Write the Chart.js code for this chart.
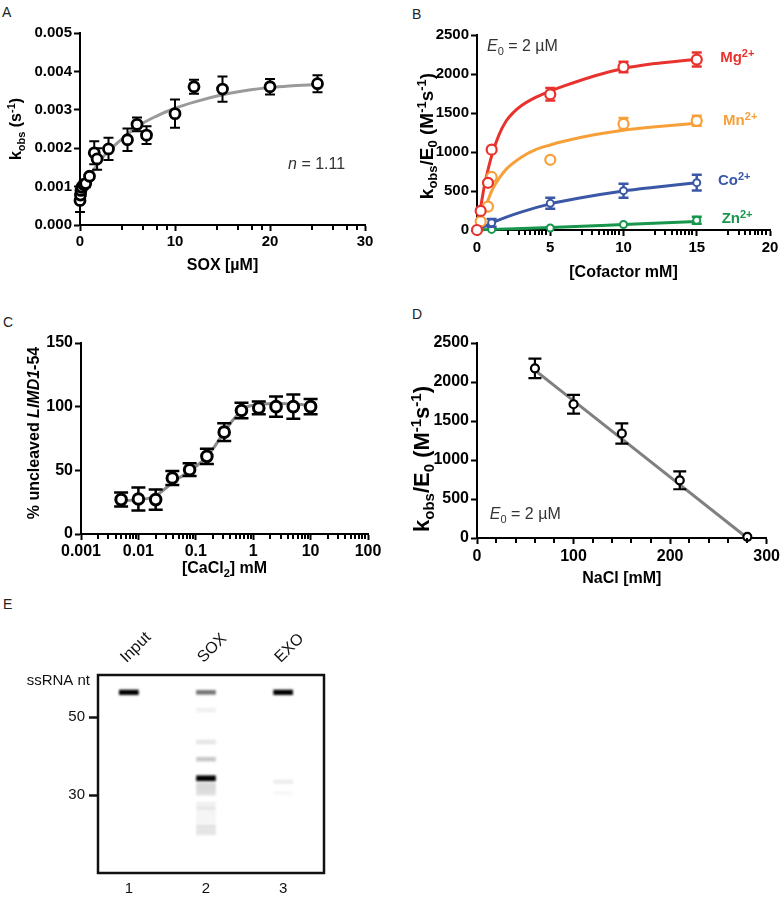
<!DOCTYPE html>
<html>
<head>
<meta charset="utf-8">
<script src="https://cdn.jsdelivr.net/npm/chart.js@4.4.0/dist/chart.umd.min.js"></script>
<style>
  body { margin: 0; background: #fff; width: 783px; height: 898px; position: relative; overflow: hidden; font-family: 'Liberation Sans', Arial, sans-serif; }
  canvas { position: absolute; }
  .lbl { position: absolute; font-size: 14px; line-height: 14px; color: #222; }
</style>
</head>
<body>
<div class="lbl" style="left:2px;top:5px">A</div>
<div class="lbl" style="left:412px;top:7px">B</div>
<div class="lbl" style="left:3px;top:315px">C</div>
<div class="lbl" style="left:412px;top:307px">D</div>
<div class="lbl" style="left:3px;top:597px">E</div>

<canvas id="cA" width="390" height="290" style="left:0px;top:0px"></canvas>
<canvas id="cB" width="393" height="290" style="left:390px;top:0px"></canvas>
<canvas id="cC" width="390" height="300" style="left:0px;top:300px"></canvas>
<canvas id="cD" width="393" height="300" style="left:390px;top:300px"></canvas>
<canvas id="cE" width="390" height="308" style="left:0px;top:590px"></canvas>

<script>
const FONT = "'Liberation Sans', Arial, Helvetica, sans-serif";

// A - kobs vs SOX
const soxConc = [0, 0.05, 0.1, 0.2, 0.4, 0.6, 1, 1.5, 1.8, 3, 5, 6, 7, 10, 12, 15, 20, 25];
const soxKobs = [0.00064, 0.00078, 0.0009, 0.00098, 0.00105, 0.00108, 0.00127, 0.00188, 0.00172, 0.00198, 0.00222, 0.00262, 0.00234, 0.0029, 0.0036, 0.00354, 0.0036, 0.00368];
const soxErr = [0.0003, 0.00015, 0.00012, 0.0001, 0.0001, 0.0001, 0.00005, 0.0003, 0.00028, 0.00029, 0.00029, 0.00018, 0.00023, 0.00037, 0.00018, 0.00033, 0.0002, 0.00022];
const soxFitX = [0, 1, 2, 3, 4, 5, 6, 8, 10, 12, 15, 18, 20, 22, 25];
const soxFitY = [0.00085, 0.00125, 0.00165, 0.00192, 0.00215, 0.00236, 0.00256, 0.00283, 0.00304, 0.0032, 0.00339, 0.00352, 0.00358, 0.00362, 0.00366];
const aXTicks = [0, 10, 20, 30];
const aYTicks = [0, 0.001, 0.002, 0.003, 0.004, 0.005];

// B - cofactors
const mgConc = [0, 0.25, 0.75, 1, 5, 10, 15];
const mgRate = [0, 245, 605, 1030, 1740, 2090, 2185];
const mgErr = [0, 0, 0, 0, 80, 68, 90];
const mgFitX = [0, 0.25, 0.5, 0.75, 1, 1.5, 2, 2.5, 3, 4, 5, 6, 8, 10, 12, 15];
const mgFitY = [0, 290, 560, 770, 950, 1220, 1400, 1510, 1590, 1700, 1780, 1850, 1975, 2070, 2130, 2190];
const mnConc = [0.25, 0.75, 1, 5, 10, 15];
const mnRate = [110, 300, 680, 900, 1360, 1400];
const mnErr = [0, 0, 0, 0, 75, 65];
const mnFitX = [0.25, 0.5, 0.75, 1, 1.5, 2, 3, 4, 5, 6, 8, 10, 12, 15];
const mnFitY = [120, 250, 380, 500, 660, 780, 930, 1030, 1090, 1140, 1220, 1280, 1320, 1370];
const coConc = [0, 1, 5, 10, 15];
const coRate = [0, 92, 342, 504, 607];
const coErr = [0, 50, 70, 90, 100];
const coFitX = [0, 0.5, 1, 2, 3, 5, 7, 10, 12, 15];
const coFitY = [0, 45, 90, 165, 230, 335, 410, 500, 545, 605];
const znConc = [0, 1, 5, 10, 15];
const znRate = [0, 8, 25, 70, 125];
const znErr = [0, 0, 0, 0, 45];
const znFitX = [0, 1, 5, 10, 15];
const znFitY = [0, 8, 32, 70, 110];
const bXTicks = [0, 5, 10, 15, 20];
const bYTicks = [0, 500, 1000, 1500, 2000, 2500];

// C - CaCl2
const caclConc = [0.005, 0.01, 0.02, 0.039, 0.078, 0.156, 0.3125, 0.625, 1.25, 2.5, 5, 10];
const uncleaved = [27, 27.5, 27, 44, 50.5, 61, 80, 97, 99, 100, 100, 100];
const uncleavedErr = [5.5, 9, 8, 5.5, 5, 6, 7, 6, 5, 8, 9.5, 6];
const caclFitX = [0.005, 0.01, 0.015, 0.02, 0.03, 0.04, 0.06, 0.08, 0.1, 0.15, 0.2, 0.3, 0.4, 0.6, 0.8, 1, 1.5, 2, 3, 5, 10];
const caclFitY = [26, 27, 28, 30, 36, 41, 46, 50, 53, 60, 67, 79, 87, 96, 100, 101, 102, 102.5, 102.5, 102, 101];
const cXTicks = [0.001, 0.01, 0.1, 1, 10, 100];
const cXLabels = ['0.001', '0.01', '0.1', '1', '10', '100'];
const cYTicks = [0, 50, 100, 150];

// D - NaCl
const naclConc = [60, 100, 150, 210, 280];
const naclRate = [2175, 1715, 1340, 740, 15];
const naclErr = [125, 120, 130, 115, 0];
const naclFitX = [60, 280];
const naclFitY = [2150, 0];
const dXTicks = [0, 100, 200, 300];
const dYTicks = [0, 500, 1000, 1500, 2000, 2500];

// E - gel
const gelLanes = [1, 2, 3];
const gelNames = ['Input', 'SOX', 'EXO'];
const gelNumbers = ['1', '2', '3'];
const gelTicks = [30, 50];
const bandLane = [1, 2, 2, 2, 2, 2, 2, 2, 2, 2, 2, 3, 3, 3];
const bandNt = [56.35, 56.35, 51.8, 43.6, 39.2, 34.3, 32.2, 30.6, 27.2, 21.0, 24.5, 56.35, 33.4, 30.5];
const bandHalf = [0.6, 0.5, 0.5, 0.5, 0.5, 0.65, 0.9, 0.6, 1.0, 1.2, 2.5, 0.6, 0.5, 0.4];
const bandInt = [1.0, 0.55, 0.06, 0.1, 0.22, 1.0, 0.15, 0.13, 0.06, 0.1, 0.04, 1.0, 0.07, 0.03];

// minor tick positions (axis styling)
const aXMinor = [];
[0, 10, 20].forEach(b => [4.46, 6.6, 8.07, 9.12].forEach(f => aXMinor.push(b + f)));
const bXMinor = [];
[0, 5, 10, 15].forEach(b => [0.43, 0.57, 0.66, 0.73, 0.79, 0.84, 0.89, 0.94].forEach(f => bXMinor.push(b + f * 5)));
const cXMinor = [];
[0.001, 0.01, 0.1, 1, 10].forEach(d => [2, 3, 4, 5, 6, 7, 8, 9].forEach(k => cXMinor.push(d * k)));
const dXMinor = [20, 40, 60, 80, 120, 140, 160, 180, 220, 240, 260, 280];

const pts = (xs, ys) => xs.map((x, i) => ({ x: x, y: ys[i] }));

function drawRich(ctx, spec, x, y, o) {
  const size = o.size || 16, weight = o.weight || 'bold';
  const items = spec.map(p => typeof p === 'string' ? { t: p, s: '' } : { t: p[0], s: p[1] });
  const fontFor = s => {
    const small = s === 'sub' || s === 'sup';
    const ital = s === 'i';
    return (ital ? 'italic ' : '') + weight + ' ' + (small ? Math.round(size * 0.7) : size) + 'px ' + FONT;
  };
  let total = 0;
  items.forEach(it => { ctx.font = fontFor(it.s); it.w = ctx.measureText(it.t).width; total += it.w; });
  ctx.save();
  ctx.translate(x, y);
  if (o.rotate) ctx.rotate(o.rotate);
  ctx.fillStyle = o.color || '#000';
  ctx.textBaseline = 'alphabetic';
  let cx = o.align === 'left' ? 0 : o.align === 'right' ? -total : -total / 2;
  const base = size * 0.36;
  items.forEach(it => {
    ctx.font = fontFor(it.s);
    const dy = it.s === 'sub' ? size * 0.24 : it.s === 'sup' ? -size * 0.38 : 0;
    ctx.fillText(it.t, cx, base + dy);
    cx += it.w;
  });
  ctx.restore();
}

const KOBS_E0 = ['k', ['obs', 'sub'], '/E', ['0', 'sub'], ' (M', ['-1', 'sup'], 's', ['-1', 'sup'], ')'];
const E0_NOTE = [['E', 'i'], ['0', 'sub'], ' = 2 µM'];

const decorCfg = {
  cA: {
    xTitle: { spec: ['SOX [µM]'], y: 264 },
    yTitle: { spec: ['k', ['obs', 'sub'], ' (s', ['-1', 'sup'], ')'], x: 15, size: 16 },
    notes: [{ spec: [['n', 'i'], ' = 1.11'], x: 21.9, y: 0.00161, align: 'left', weight: 'normal', color: '#333', size: 16 }],
    minor: aXMinor
  },
  cB: {
    xTitle: { spec: ['[Cofactor mM]'], y: 271 },
    yTitle: { spec: KOBS_E0, x: 36, y: 136, size: 19 },
    notes: [
      { spec: E0_NOTE, x: 0.68, y: 2372, align: 'left', weight: 'normal', color: '#333', size: 16 },
      { spec: ['Mg', ['2+', 'sup']], x: 16.6, y: 2218, align: 'left', color: '#e8322d', size: 15 },
      { spec: ['Mn', ['2+', 'sup']], x: 16.8, y: 1410, align: 'left', color: '#f7a03a', size: 15 },
      { spec: ['Co', ['2+', 'sup']], x: 16.45, y: 641, align: 'left', color: '#3b58a6', size: 15 },
      { spec: ['Zn', ['2+', 'sup']], x: 16.7, y: 154, align: 'left', color: '#17964c', size: 15 }
    ],
    minor: bXMinor
  },
  cC: {
    xTitle: { spec: ['[CaCl', ['2', 'sub'], '] mM'], y: 267 },
    yTitle: { spec: ['% uncleaved ', ['LIMD1', 'i'], '-54'], x: 33, y: 133, size: 16 },
    minor: cXMinor
  },
  cD: {
    xTitle: { spec: ['NaCl [mM]'], y: 277 },
    yTitle: { spec: KOBS_E0, x: 31, y: 159, size: 22 },
    notes: [{ spec: E0_NOTE, x: 13.3, y: 320, align: 'left', weight: 'normal', color: '#333', size: 16 }],
    minor: dXMinor
  },
  cE: {
    frame: 2.5,
    texts: [{ spec: ['ssRNA nt'], px: 90, py: 90, align: 'right', weight: 'normal', size: 15, color: '#111' }]
  }
};

const decor = {
  id: 'decor',
  beforeDatasetDraw(chart, args) {
    const ds = chart.data.datasets[args.index];
    const ctx = chart.ctx;
    if (ds.blur) { ctx.save(); ctx.filter = 'blur(' + ds.blur + 'px)'; }
    if (!ds.errors) return;
    const ys = chart.scales[args.meta.yAxisID];
    ctx.save();
    ctx.strokeStyle = ds.errColor;
    ctx.lineWidth = ds.errWidth;
    args.meta.data.forEach((pt, i) => {
      const e = ds.errors[i];
      if (!e) return;
      const v = ds.data[i].y;
      const y1 = ys.getPixelForValue(v + e), y2 = ys.getPixelForValue(v - e);
      const h = ds.capWidth / 2;
      ctx.beginPath();
      ctx.moveTo(pt.x, y1); ctx.lineTo(pt.x, y2);
      ctx.moveTo(pt.x - h, y1); ctx.lineTo(pt.x + h, y1);
      ctx.moveTo(pt.x - h, y2); ctx.lineTo(pt.x + h, y2);
      ctx.stroke();
    });
    ctx.restore();
  },
  afterDatasetDraw(chart, args) {
    if (chart.data.datasets[args.index].blur) chart.ctx.restore();
  },
  afterDraw(chart) {
    const cfg = decorCfg[chart.canvas.id];
    if (!cfg) return;
    const ctx = chart.ctx, a = chart.chartArea;
    if (cfg.minor) {
      const s = chart.scales.x;
      ctx.save();
      ctx.fillStyle = '#000';
      cfg.minor.forEach(v => {
        const px = Math.round(s.getPixelForValue(v));
        ctx.fillRect(px - 1, a.bottom, 2, 5);
      });
      ctx.restore();
    }
    if (cfg.xTitle) drawRich(ctx, cfg.xTitle.spec, (a.left + a.right) / 2, cfg.xTitle.y, { size: 16 });
    if (cfg.yTitle) drawRich(ctx, cfg.yTitle.spec, cfg.yTitle.x, cfg.yTitle.y || (a.top + a.bottom) / 2, { size: cfg.yTitle.size, rotate: -Math.PI / 2 });
    (cfg.notes || []).forEach(n => {
      drawRich(ctx, n.spec, chart.scales.x.getPixelForValue(n.x), chart.scales.y.getPixelForValue(n.y), n);
    });
    (cfg.texts || []).forEach(t => drawRich(ctx, t.spec, t.px, t.py, t));
    if (cfg.frame) {
      ctx.save();
      ctx.strokeStyle = '#111';
      ctx.lineWidth = cfg.frame;
      ctx.strokeRect(a.left, a.top, a.right - a.left, a.bottom - a.top);
      ctx.restore();
    }
  }
};

function axis(o) {
  return {
    type: o.type || 'linear', min: o.min, max: o.max, position: o.position, offset: false,
    afterBuildTicks: s => { s.ticks = o.ticks.map(v => ({ value: v })); },
    afterFit: s => { if (o.height !== undefined) s.height = o.height; if (o.width !== undefined) s.width = o.width; },
    ticks: {
      callback: o.fmt, color: '#000', autoSkip: false, maxRotation: 0, padding: o.pad === undefined ? 3 : o.pad,
      font: { family: FONT, size: o.size || 15, weight: 'bold' }
    },
    grid: { drawOnChartArea: false, drawTicks: true, tickLength: 6, tickWidth: 2, tickColor: '#000' },
    border: { display: true, color: '#000', width: 2 }
  };
}

function markers(data, err, color, r, bw, cap, ew) {
  return {
    data: data, errors: err, errColor: color, errWidth: ew, capWidth: cap,
    showLine: false, pointRadius: r, pointBorderWidth: bw, pointBorderColor: color,
    pointBackgroundColor: '#fff', borderColor: color, order: 0, clip: false
  };
}

function curve(data, color, w) {
  return {
    data: data, showLine: true, pointRadius: 0, borderColor: color, borderWidth: w,
    cubicInterpolationMode: 'monotone', fill: false, order: 1, clip: false
  };
}

function panel(id, datasets, scales, pad) {
  return new Chart(document.getElementById(id), {
    type: 'scatter',
    data: { datasets: datasets },
    options: {
      responsive: false, animation: false, devicePixelRatio: 1, events: [],
      layout: { padding: pad },
      plugins: { legend: { display: false }, tooltip: { enabled: false } },
      scales: scales
    },
    plugins: [decor]
  });
}

// A
panel('cA', [
  markers(pts(soxConc, soxKobs), soxErr, '#000', 5, 2.8, 10, 2),
  curve(pts(soxFitX, soxFitY), '#9a9a9a', 3)
], {
  x: axis({ min: 0, max: 30, ticks: aXTicks, fmt: v => String(v), height: 65, pad: 2 }),
  y: axis({ min: 0, max: 0.005, ticks: aYTicks, fmt: v => v.toFixed(3), width: 80, pad: 2 })
}, { left: 0, top: 33, right: 25, bottom: 0 });

// B
const RED = '#e8322d', ORANGE = '#f7a03a', BLUE = '#3b58a6', GREEN = '#17964c';
panel('cB', [
  markers(pts(mgConc, mgRate), mgErr, RED, 5, 2.2, 10, 2.5),
  markers(pts(mnConc, mnRate), mnErr, ORANGE, 5, 2.2, 10, 2.5),
  markers(pts(coConc, coRate), coErr, BLUE, 3.5, 2, 10, 2.5),
  markers(pts(znConc, znRate), znErr, GREEN, 3.5, 2, 10, 2.5),
  curve(pts(mgFitX, mgFitY), RED, 3),
  curve(pts(mnFitX, mnFitY), ORANGE, 3),
  curve(pts(coFitX, coFitY), BLUE, 3),
  curve(pts(znFitX, znFitY), GREEN, 3)
], {
  x: axis({ min: 0, max: 20, ticks: bXTicks, fmt: v => String(v), height: 60, pad: 3 }),
  y: axis({ min: 0, max: 2500, ticks: bYTicks, fmt: v => String(v), width: 87, pad: 2 })
}, { left: 0, top: 35, right: 13, bottom: 0 });

// C
panel('cC', [
  markers(pts(caclConc, uncleaved), uncleavedErr, '#000', 5.3, 3, 14, 2.5),
  curve(pts(caclFitX, caclFitY), '#8c8c8c', 3)
], {
  x: axis({ type: 'logarithmic', min: 0.001, max: 100, ticks: cXTicks, fmt: (v, i) => cXLabels[i], height: 66, size: 16, pad: 2 }),
  y: axis({ min: 0, max: 150, ticks: cYTicks, fmt: v => String(v), width: 81, size: 16, pad: 2 })
}, { left: 0, top: 43, right: 22, bottom: 0 });

// D
panel('cD', [
  markers(pts(naclConc, naclRate), naclErr, '#000', 4, 2.2, 13, 2.2),
  curve(pts(naclFitX, naclFitY), '#808080', 3)
], {
  x: axis({ min: 0, max: 300, ticks: dXTicks, fmt: v => String(v), height: 62, size: 16, pad: 3 }),
  y: axis({ min: 0, max: 2500, ticks: dYTicks, fmt: v => String(v), width: 87, size: 16, pad: 2 })
}, { left: 0, top: 43, right: 13, bottom: 0 });

// E - gel drawn as floating bars
const gelFont = { family: FONT, size: 15 };
new Chart(document.getElementById('cE'), {
  type: 'bar',
  data: {
    datasets: [{
      data: bandLane.map((l, i) => ({ x: l, y: [bandNt[i] - bandHalf[i], bandNt[i] + bandHalf[i]] })),
      backgroundColor: c => 'rgba(0,0,0,' + bandInt[c.dataIndex] + ')',
      borderWidth: 0, barThickness: 19, blur: 1.1, xAxisID: 'x', yAxisID: 'y'
    }]
  },
  options: {
    responsive: false, animation: false, devicePixelRatio: 1, events: [],
    layout: { padding: { left: 0, top: 0, right: 66, bottom: 0 } },
    plugins: { legend: { display: false }, tooltip: { enabled: false } },
    scales: {
      x: {
        type: 'linear', position: 'bottom', min: 0.6, max: 3.53, offset: false,
        afterBuildTicks: s => { s.ticks = gelLanes.map(v => ({ value: v })); },
        afterFit: s => { s.height = 25; },
        ticks: { callback: (v, i) => gelNumbers[i], color: '#111', font: gelFont, padding: 7, maxRotation: 0, autoSkip: false },
        grid: { display: false, drawTicks: false }, border: { display: false }
      },
      xTop: {
        type: 'linear', position: 'top', min: 0.6, max: 3.53, offset: false,
        afterBuildTicks: s => { s.ticks = gelLanes.map(v => ({ value: v })); },
        afterFit: s => { s.height = 85; },
        ticks: { callback: (v, i) => gelNames[i], color: '#111', font: { family: FONT, size: 16 }, padding: 8, labelOffset: 8, minRotation: 45, maxRotation: 45, autoSkip: false },
        grid: { display: false, drawTicks: false }, border: { display: false }
      },
      y: {
        type: 'linear', min: 10, max: 60.8,
        afterBuildTicks: s => { s.ticks = gelTicks.map(v => ({ value: v })); },
        afterFit: s => { s.width = 98; },
        ticks: { callback: v => String(v), color: '#111', font: gelFont, padding: 4 },
        grid: { drawOnChartArea: false, drawTicks: true, tickLength: 9, tickWidth: 2.5, tickColor: '#111' },
        border: { display: false }
      }
    }
  },
  plugins: [decor]
});
</script>
</body>
</html>
